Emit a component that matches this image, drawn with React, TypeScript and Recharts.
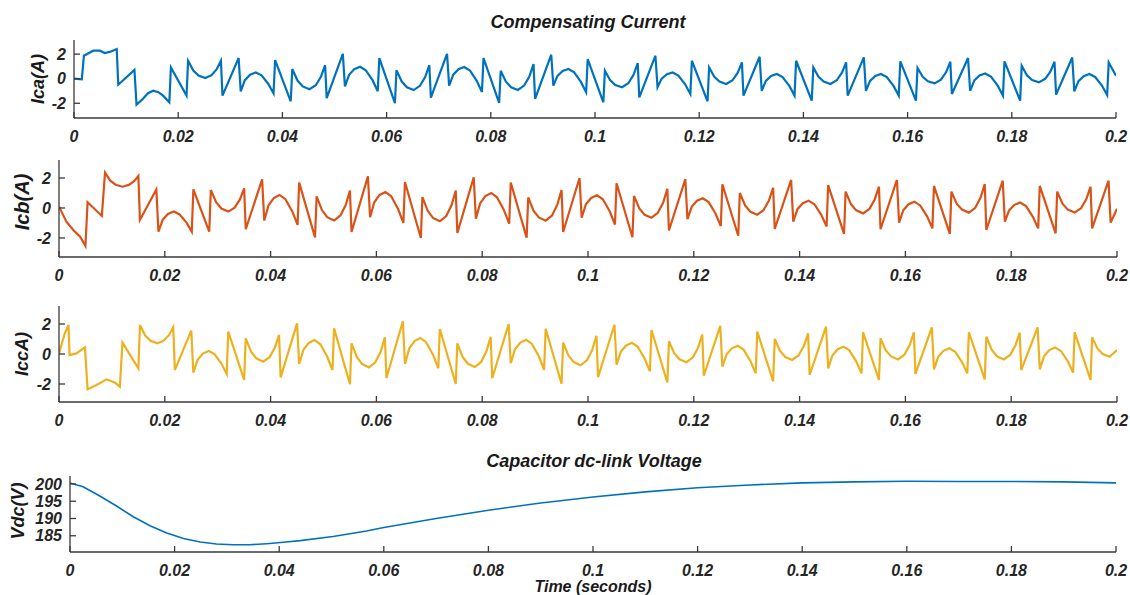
import React from "react";
import { LineChart, Line, XAxis, YAxis } from "recharts";

const timeTicks = [0, 0.02, 0.04, 0.06, 0.08, 0.1, 0.12, 0.14, 0.16, 0.18, 0.2];
const currentTicks = [-2, 0, 2];
const voltageTicks = [185, 190, 195, 200];

// [time (s), current (A)]
const icaPoints: [number, number][] = [
  [0, 0], [0.0015, -0.05],
  [0.0019, 1.87], [0.0037, 2.28], [0.005, 2.28], [0.0059, 2.09], [0.007, 2.2], [0.0082, 2.41], [0.0085, -0.49], [0.0116, 0.71], [0.012, -2.11], [0.0132, -1.65], [0.0142, -1.18], [0.0152, -0.98], [0.0162, -1.1], [0.0171, -1.38], [0.0183, -1.92], [0.0186, 0.92], [0.0216, -1.38],
  [0.0219, 1.46], [0.0229, 0.66], [0.0239, 0.25], [0.0252, 0.05], [0.0264, 0.29], [0.0274, 0.78], [0.0282, 1.46], [0.0285, -1.38], [0.0316, 1.68], [0.032, -1.03], [0.0328, -0.12], [0.0338, 0.33], [0.0349, 0.51], [0.036, 0.27], [0.0373, -0.43], [0.0383, -1.19], [0.0386, 1.52], [0.0416, -1.84],
  [0.0419, 0.79], [0.0429, -0.15], [0.0439, -0.63], [0.0452, -0.86], [0.0464, -0.53], [0.0474, 0.16], [0.0482, 1.1], [0.0485, -1.58], [0.0516, 2.02], [0.052, -0.62], [0.0528, 0.32], [0.0538, 0.78], [0.0549, 0.97], [0.056, 0.69], [0.0573, -0.12], [0.0583, -1.02], [0.0586, 1.68], [0.0616, -1.99],
  [0.0619, 0.7], [0.0629, -0.23], [0.0639, -0.7], [0.0652, -0.93], [0.0664, -0.58], [0.0674, 0.13], [0.0682, 1.1], [0.0685, -1.55], [0.0716, 2.02], [0.072, -0.56], [0.0728, 0.33], [0.0738, 0.77], [0.0749, 0.95], [0.076, 0.67], [0.0773, -0.17], [0.0783, -1.08], [0.0786, 1.68], [0.0816, -1.97],
  [0.0819, 0.65], [0.0829, -0.24], [0.0839, -0.7], [0.0852, -0.92], [0.0864, -0.56], [0.0874, 0.18], [0.0882, 1.19], [0.0885, -1.65], [0.0916, 1.95], [0.092, -0.57], [0.0928, 0.23], [0.0938, 0.63], [0.0949, 0.79], [0.096, 0.52], [0.0973, -0.26], [0.0983, -1.11], [0.0986, 1.6], [0.1016, -1.92],
  [0.1019, 0.65], [0.1029, -0.12], [0.1039, -0.51], [0.1052, -0.7], [0.1064, -0.37], [0.1074, 0.32], [0.1082, 1.27], [0.1085, -1.52], [0.1116, 1.87], [0.112, -0.7], [0.1128, 0.01], [0.1138, 0.36], [0.1149, 0.51], [0.116, 0.26], [0.1173, -0.46], [0.1183, -1.25], [0.1186, 1.46], [0.1216, -1.84],
  [0.1219, 0.92], [0.1229, 0.15], [0.1239, -0.24], [0.1252, -0.43], [0.1264, -0.13], [0.1274, 0.49], [0.1282, 1.33], [0.1285, -1.38], [0.1316, 1.79], [0.132, -0.98], [0.1328, -0.18], [0.1338, 0.22], [0.1349, 0.38], [0.136, 0.13], [0.1373, -0.59], [0.1383, -1.38], [0.1386, 1.46], [0.1416, -1.79],
  [0.1419, 0.92], [0.1429, 0.15], [0.1439, -0.24], [0.1452, -0.43], [0.1464, -0.13], [0.1474, 0.49], [0.1482, 1.33], [0.1485, -1.38], [0.1516, 1.73], [0.152, -0.98], [0.1528, -0.18], [0.1538, 0.22], [0.1549, 0.38], [0.156, 0.13], [0.1573, -0.59], [0.1583, -1.38], [0.1586, 1.41], [0.1616, -1.79],
  [0.1619, 0.87], [0.1629, 0.16], [0.1639, -0.21], [0.1652, -0.38], [0.1664, -0.08], [0.1674, 0.54], [0.1682, 1.38], [0.1685, -1.25], [0.1716, 1.68], [0.172, -0.98], [0.1728, -0.15], [0.1738, 0.26], [0.1749, 0.43], [0.176, 0.18], [0.1773, -0.57], [0.1783, -1.38], [0.1786, 1.41], [0.1816, -1.79],
  [0.1819, 1.06], [0.1829, 0.28], [0.1839, -0.11], [0.1852, -0.3], [0.1864, -0.01], [0.1874, 0.57], [0.1882, 1.38], [0.1885, -1.3], [0.1916, 1.73], [0.192, -1.03], [0.1928, -0.2], [0.1938, 0.21], [0.1949, 0.38], [0.196, 0.14], [0.1973, -0.56], [0.1983, -1.33], [0.1986, 1.33], [0.2, 0.24],
];

const icbPoints: [number, number][] = [
  [0, 0.09], [0.0014, -0.91], [0.0027, -1.47], [0.004, -1.91], [0.005, -2.53], [0.0054, 0.38], [0.0081, -0.53],
  [0.0087, 2.36], [0.0097, 1.82], [0.0107, 1.55], [0.012, 1.42], [0.0132, 1.54], [0.0142, 1.79], [0.015, 2.13], [0.0153, -0.8], [0.0184, 1.24], [0.0188, -1.58], [0.0196, -0.79], [0.0206, -0.4], [0.0217, -0.24], [0.0228, -0.43], [0.0241, -0.98], [0.0251, -1.58], [0.0254, 1.24], [0.0284, -1.58],
  [0.0287, 1.2], [0.0297, 0.38], [0.0307, -0.04], [0.032, -0.24], [0.0332, 0.02], [0.0342, 0.57], [0.035, 1.31], [0.0353, -1.42], [0.0384, 1.91], [0.0388, -0.84], [0.0396, 0.17], [0.0406, 0.66], [0.0417, 0.87], [0.0428, 0.59], [0.0441, -0.23], [0.0451, -1.13], [0.0454, 1.69], [0.0484, -1.96],
  [0.0487, 0.78], [0.0497, -0.14], [0.0507, -0.61], [0.052, -0.84], [0.0532, -0.5], [0.0542, 0.2], [0.055, 1.16], [0.0553, -1.6], [0.0584, 2.11], [0.0588, -0.62], [0.0596, 0.38], [0.0606, 0.87], [0.0617, 1.07], [0.0628, 0.78], [0.0641, -0.07], [0.0651, -1.0], [0.0654, 1.73], [0.0684, -2.0],
  [0.0687, 0.73], [0.0697, -0.19], [0.0707, -0.66], [0.072, -0.89], [0.0732, -0.54], [0.0742, 0.18], [0.075, 1.16], [0.0753, -1.67], [0.0784, 2.04], [0.0788, -0.71], [0.0796, 0.3], [0.0806, 0.79], [0.0817, 1.0], [0.0828, 0.71], [0.0841, -0.13], [0.0851, -1.05], [0.0854, 1.7], [0.0884, -1.98],
  [0.0887, 0.7], [0.0897, -0.18], [0.0907, -0.63], [0.092, -0.85], [0.0932, -0.5], [0.0942, 0.22], [0.095, 1.2], [0.0953, -1.6], [0.0984, 2.0], [0.0988, -0.65], [0.0996, 0.24], [0.1006, 0.67], [0.1017, 0.85], [0.1028, 0.58], [0.1041, -0.22], [0.1051, -1.1], [0.1054, 1.65], [0.1084, -1.95],
  [0.1087, 0.8], [0.1097, -0.03], [0.1107, -0.45], [0.112, -0.65], [0.1132, -0.32], [0.1142, 0.35], [0.115, 1.28], [0.1153, -1.5], [0.1184, 1.92], [0.1188, -0.75], [0.1196, 0.08], [0.1206, 0.48], [0.1217, 0.65], [0.1228, 0.39], [0.1241, -0.37], [0.1251, -1.2], [0.1254, 1.58], [0.1284, -1.85],
  [0.1287, 1.0], [0.1297, 0.17], [0.1307, -0.25], [0.132, -0.45], [0.1332, -0.14], [0.1342, 0.49], [0.135, 1.35], [0.1353, -1.4], [0.1384, 1.87], [0.1388, -0.91], [0.1396, -0.08], [0.1406, 0.32], [0.1417, 0.49], [0.1428, 0.25], [0.1441, -0.46], [0.1451, -1.24], [0.1454, 1.53], [0.1484, -1.73],
  [0.1487, 1.09], [0.1497, 0.26], [0.1507, -0.16], [0.152, -0.36], [0.1532, -0.06], [0.1542, 0.57], [0.155, 1.42], [0.1553, -1.42], [0.1584, 1.87], [0.1588, -0.98], [0.1596, -0.15], [0.1606, 0.25], [0.1617, 0.42], [0.1628, 0.17], [0.1641, -0.56], [0.1651, -1.36], [0.1654, 1.47], [0.1684, -1.73],
  [0.1687, 1.09], [0.1697, 0.29], [0.1707, -0.11], [0.172, -0.31], [0.1732, 0.01], [0.1742, 0.68], [0.175, 1.6], [0.1753, -1.47], [0.1784, 1.82], [0.1788, -0.91], [0.1796, -0.16], [0.1806, 0.21], [0.1817, 0.36], [0.1828, 0.12], [0.1841, -0.59], [0.1851, -1.36], [0.1854, 1.47], [0.1884, -1.69],
  [0.1887, 1.09], [0.1897, 0.29], [0.1907, -0.11], [0.192, -0.31], [0.1932, -0.02], [0.1942, 0.59], [0.195, 1.42], [0.1953, -1.36], [0.1984, 1.82], [0.1988, -0.98], [0.2, -0.05],
];

const iccPoints: [number, number][] = [
  [0, 0.04], [0.0011, 1.38], [0.0018, 1.93], [0.002, -0.07], [0.0033, 0.04], [0.0049, 0.44], [0.0054, -2.36], [0.0071, -2.07], [0.009, -1.69], [0.0106, -1.91], [0.0115, -2.18], [0.012, 0.76], [0.015, -0.96],
  [0.0153, 1.93], [0.0163, 1.23], [0.0173, 0.88], [0.0186, 0.71], [0.0198, 0.89], [0.0208, 1.27], [0.0216, 1.78], [0.0219, -1.07], [0.025, 1.56], [0.0254, -1.24], [0.0262, -0.39], [0.0272, 0.03], [0.0283, 0.2], [0.0294, -0.01], [0.0307, -0.64], [0.0317, -1.33], [0.032, 1.49], [0.035, -1.73],
  [0.0353, 1.04], [0.0363, 0.16], [0.0373, -0.29], [0.0386, -0.51], [0.0398, -0.21], [0.0408, 0.42], [0.0416, 1.27], [0.0419, -1.56], [0.045, 2.04], [0.0454, -0.67], [0.0462, 0.27], [0.0472, 0.74], [0.0483, 0.93], [0.0494, 0.65], [0.0507, -0.17], [0.0517, -1.07], [0.052, 1.71], [0.055, -2.02],
  [0.0553, 0.71], [0.0563, -0.2], [0.0573, -0.67], [0.0586, -0.89], [0.0598, -0.55], [0.0608, 0.15], [0.0616, 1.11], [0.0619, -1.6], [0.065, 2.18], [0.0654, -0.67], [0.0662, 0.36], [0.0672, 0.86], [0.0683, 1.07], [0.0694, 0.79], [0.0707, -0.04], [0.0717, -0.95], [0.072, 1.67], [0.075, -2.0],
  [0.0753, 0.71], [0.0763, -0.19], [0.0773, -0.65], [0.0786, -0.87], [0.0798, -0.53], [0.0808, 0.18], [0.0816, 1.15], [0.0819, -1.62], [0.085, 2.0], [0.0854, -0.62], [0.0862, 0.31], [0.0872, 0.76], [0.0883, 0.95], [0.0894, 0.67], [0.0907, -0.15], [0.0917, -1.05], [0.092, 1.68], [0.095, -1.98],
  [0.0953, 0.75], [0.0963, -0.1], [0.0973, -0.54], [0.0986, -0.75], [0.0998, -0.42], [0.1008, 0.27], [0.1016, 1.22], [0.1019, -1.55], [0.105, 1.95], [0.1054, -0.72], [0.1062, 0.15], [0.1072, 0.57], [0.1083, 0.75], [0.1094, 0.48], [0.1107, -0.3], [0.1117, -1.15], [0.112, 1.6], [0.115, -1.9],
  [0.1153, 0.85], [0.1163, 0.05], [0.1173, -0.35], [0.1186, -0.55], [0.1198, -0.24], [0.1208, 0.41], [0.1216, 1.3], [0.1219, -1.45], [0.125, 1.88], [0.1254, -0.85], [0.1262, -0.02], [0.1272, 0.38], [0.1283, 0.55], [0.1294, 0.29], [0.1307, -0.46], [0.1317, -1.28], [0.132, 1.5], [0.135, -1.82],
  [0.1353, 1.0], [0.1363, 0.2], [0.1373, -0.2], [0.1386, -0.4], [0.1398, -0.1], [0.1408, 0.53], [0.1416, 1.38], [0.1419, -1.4], [0.145, 1.82], [0.1454, -0.96], [0.1462, -0.1], [0.1472, 0.32], [0.1483, 0.49], [0.1494, 0.24], [0.1507, -0.49], [0.1517, -1.29], [0.152, 1.44], [0.155, -1.73],
  [0.1553, 1.04], [0.1563, 0.24], [0.1573, -0.16], [0.1586, -0.36], [0.1598, -0.05], [0.1608, 0.58], [0.1616, 1.44], [0.1619, -1.33], [0.165, 1.78], [0.1654, -1.02], [0.1662, -0.19], [0.1672, 0.21], [0.1683, 0.38], [0.1694, 0.15], [0.1707, -0.54], [0.1717, -1.29], [0.172, 1.44], [0.175, -1.69],
  [0.1753, 1.16], [0.1763, 0.29], [0.1773, -0.15], [0.1786, -0.36], [0.1798, -0.06], [0.1808, 0.57], [0.1816, 1.42], [0.1819, -1.07], [0.185, 1.78], [0.1854, -1.02], [0.1862, -0.16], [0.1872, 0.26], [0.1883, 0.44], [0.1894, 0.2], [0.1907, -0.48], [0.1917, -1.24], [0.192, 1.44], [0.195, -1.73],
  [0.1953, 1.11], [0.1963, 0.37], [0.1973, 0.0], [0.1986, -0.18], [0.2, 0.27],
];

// [time (s), dc-link voltage (V)]
const vdcPoints: [number, number][] = [
  [0, 200.3], [0.0025, 199.2], [0.0057, 196.5], [0.0089, 193.6], [0.0121, 190.5], [0.0153, 187.9],
  [0.0185, 185.8], [0.0217, 184.2], [0.0249, 183.2], [0.028, 182.6], [0.0312, 182.4], [0.0344, 182.4],
  [0.0376, 182.7], [0.0408, 183.1], [0.044, 183.6], [0.0503, 184.8], [0.0567, 186.4], [0.06, 187.4],
  [0.07, 190.0], [0.08, 192.4], [0.09, 194.5], [0.1, 196.2], [0.11, 197.7], [0.12, 198.9], [0.13, 199.7],
  [0.14, 200.3], [0.15, 200.6], [0.16, 200.8], [0.17, 200.7], [0.18, 200.7], [0.19, 200.6], [0.2, 200.3],
];

const FONT = "'Liberation Sans', Arial, Helvetica, sans-serif";
const AXIS = "#3a3a3a";
const tickStyle = { fill: "#262626", fontSize: 16, fontWeight: "bold", fontStyle: "italic", fontFamily: FONT };

const toRows = (pts: [number, number][]) => pts.map(([t, v]) => ({ t, v }));

interface PanelProps {
  points: [number, number][];
  color: string;
  left: number;
  right: number;
  plotTop: number;
  plotBottom: number;
  yDomain: [number, number];
  yTicks: number[];
  lineWidth?: number;
}

const Panel = ({ points, color, left, right, plotTop, plotBottom, yDomain, yTicks, lineWidth = 2.2 }: PanelProps) => {
  const pad = 10;
  const axisH = 34;
  const height = plotBottom - plotTop + pad + axisH;
  return (
    <div style={{ position: "absolute", left: 0, top: plotTop - pad }}>
      <LineChart width={1130} height={height} data={toRows(points)} margin={{ top: pad, right: 1130 - right, bottom: 0, left: 0 }}>
        <XAxis
          dataKey="t"
          type="number"
          domain={[0, 0.2]}
          ticks={timeTicks}
          interval={0}
          tickFormatter={(v: number) => String(v)}
          tickSize={-6}
          tickMargin={19}
          height={axisH}
          stroke={AXIS}
          strokeWidth={1.3}
          tick={tickStyle}
          allowDataOverflow
        />
        <XAxis
          xAxisId="top"
          orientation="top"
          dataKey="t"
          type="number"
          domain={[0, 0.2]}
          ticks={timeTicks}
          interval={0}
          tick={false}
          tickSize={-6}
          height={0}
          stroke={AXIS}
          strokeWidth={1.3}
          allowDataOverflow
        />
        <YAxis
          type="number"
          domain={yDomain}
          ticks={yTicks}
          interval={0}
          tickSize={-6}
          tickMargin={14}
          width={left}
          stroke={AXIS}
          strokeWidth={1.3}
          tick={tickStyle}
          allowDataOverflow
        />
        <YAxis
          yAxisId="right"
          orientation="right"
          type="number"
          domain={yDomain}
          ticks={yTicks}
          interval={0}
          tick={false}
          tickSize={-6}
          width={0}
          stroke={AXIS}
          strokeWidth={1.3}
          allowDataOverflow
        />
        <Line type="linear" dataKey="v" stroke={color} strokeWidth={lineWidth} dot={false} isAnimationActive={false} />
      </LineChart>
    </div>
  );
};

const Label = ({ text, x, y, size, rotate }: { text: string; x: number; y: number; size: number; rotate?: boolean }) => (
  <div
    style={{
      position: "absolute",
      left: x,
      top: y,
      transform: `translate(-50%, -50%)${rotate ? " rotate(-90deg)" : ""}`,
      whiteSpace: "nowrap",
      lineHeight: 1,
      fontFamily: FONT,
      fontWeight: "bold",
      fontStyle: "italic",
      fontSize: size,
      color: "#1a1a1a",
    }}
  >
    {text}
  </div>
);

export default function App() {
  return (
    <div style={{ position: "absolute", left: 0, top: 0, width: 1130, height: 595, background: "#fff", overflow: "hidden" }}>
      <Label text="Compensating Current" x={588} y={22} size={18} />
      <Panel points={icaPoints} color="#0072BD" left={74} right={1116} plotTop={40} plotBottom={118} yDomain={[-3.2, 3.15]} yTicks={currentTicks} />
      <Label text="Ica(A)" x={38} y={79} size={18} rotate />

      <Panel points={icbPoints} color="#D95319" left={59} right={1117} plotTop={160} plotBottom={257} yDomain={[-3.27, 3.2]} yTicks={currentTicks} />
      <Label text="Icb(A)" x={22} y={202} size={20} rotate />

      <Panel points={iccPoints} color="#EDB120" left={59} right={1117} plotTop={306} plotBottom={402} yDomain={[-3.2, 3.2]} yTicks={currentTicks} />
      <Label text="IccA)" x={22} y={354} size={18} rotate />

      <Label text="Capacitor dc-link Voltage" x={594} y={461} size={18} />
      <Panel points={vdcPoints} color="#0072BD" left={70} right={1116} plotTop={476} plotBottom={552} yDomain={[180.3, 202.3]} yTicks={voltageTicks} lineWidth={1.6} />
      <Label text="Vdc(V)" x={18} y={511} size={18} rotate />
      <Label text="Time (seconds)" x={593} y={587} size={16} />
    </div>
  );
}
